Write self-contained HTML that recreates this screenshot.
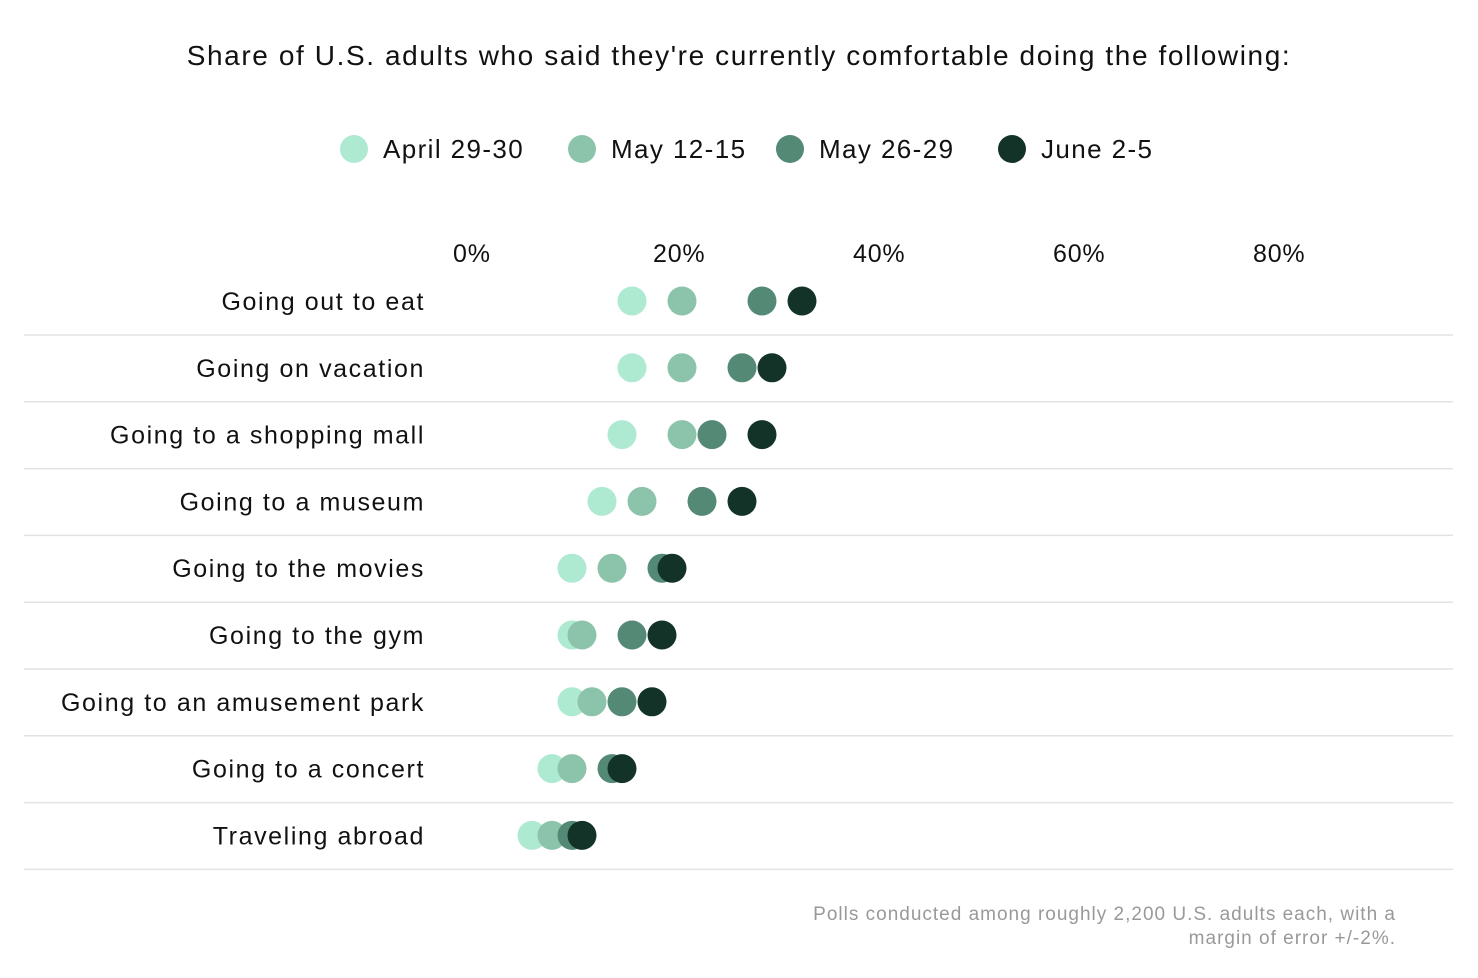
<!DOCTYPE html>
<html><head><meta charset="utf-8"><style>
body{margin:0;background:#fff;font-family:"Liberation Sans",sans-serif;}
svg{display:block}
</style></head><body>
<svg id="chart" width="1478" height="978">
<text x="739" y="65" text-anchor="middle" font-size="28" letter-spacing="1.6" fill="#111">Share of U.S. adults who said they're currently comfortable doing the following:</text>
<g id="legend"></g>
<g id="axis"></g>
<g id="rows"></g>
<text x="1396" y="920" text-anchor="end" font-size="19" letter-spacing="1" fill="#999">Polls conducted among roughly 2,200 U.S. adults each, with a</text>
<text x="1396" y="944" text-anchor="end" font-size="19" letter-spacing="1" fill="#999">margin of error +/-2%.</text>
</svg>
<script>
const categories=["Going out to eat","Going on vacation","Going to a shopping mall","Going to a museum","Going to the movies","Going to the gym","Going to an amusement park","Going to a concert","Traveling abroad"];
const seriesNames=["April 29-30","May 12-15","May 26-29","June 2-5"];
const april=[16,16,15,13,10,10,10,8,6];
const may12=[21,21,21,17,14,11,12,10,8];
const may26=[29,27,24,23,19,16,15,14,10];
const june=[33,30,29,27,20,19,18,15,11];
const ticks=[0,20,40,60,80];
const tickLabels=["0%","20%","40%","60%","80%"];
const colors=["#aee9d1","#8cc4ab","#548a75","#133329"];
const series=[april,may12,may26,june];
const NS="http://www.w3.org/2000/svg";
const x=v=>472+v*10;
const y=i=>301+i*66.8;
function mk(t,a,p){const e=document.createElementNS(NS,t);for(const k in a)e.setAttribute(k,a[k]);p.appendChild(e);return e;}
const leg=document.getElementById('legend');
const lx=[354,582,790,1012];
seriesNames.forEach((n,i)=>{
 const c=mk('circle',{cx:lx[i],cy:149,r:14,fill:colors[i]},leg);
 
 
 const t=mk('text',{x:lx[i]+29,y:158,'font-size':26,'letter-spacing':1.4,fill:'#111'},leg);t.textContent=n;
 
 
});
const ax=document.getElementById('axis');
ticks.forEach((v,i)=>{
 const t=mk('text',{x:x(v)-19,y:262,'font-size':25,'letter-spacing':0.8,fill:'#111'},ax);t.textContent=tickLabels[i];
 
 
});
const rows=document.getElementById('rows');
categories.forEach((c,i)=>{
 const t=mk('text',{x:425,y:y(i)+9,'text-anchor':'end','font-size':25,'letter-spacing':1.6,fill:'#111'},rows);t.textContent=c;
 
 
 const l=mk('line',{x1:24,x2:1453,y1:y(i)+34,y2:y(i)+34,stroke:'#e2e2e2','stroke-width':1.5},rows);
 
 
 series.forEach((s,j)=>{
  const d=mk('circle',{cx:x(s[i]),cy:y(i),r:14.5,fill:colors[j]},rows);
  
  
 });
});
</script>
</body></html>
